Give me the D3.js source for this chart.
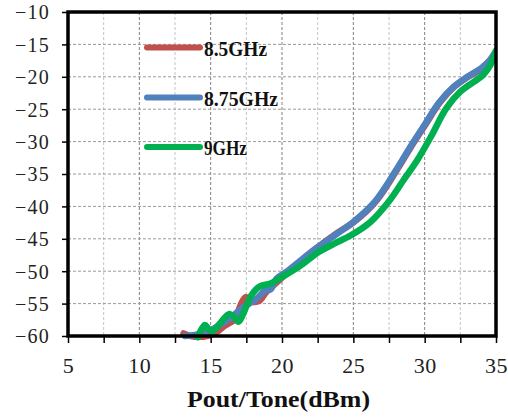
<!DOCTYPE html>
<html>
<head>
<meta charset="utf-8">
<script src="https://cdn.jsdelivr.net/npm/d3@7"></script>
<style>
html,body{margin:0;padding:0;background:#fff;}
svg{display:block;}
</style>
</head>
<body>
<svg id="chart" width="508" height="419"></svg>
<script>
const seriesNames = ["8.5GHz", "8.75GHz", "9GHz"];
const seriesColors = ["#C0504D", "#4F81BD", "#00B050"];

const redX = [13.1,13.6,14.5,15.2,16.0,16.7,17.1,17.45,17.9,18.4,18.9,19.4,20.0,20.6,21.5,22.5,23.8,25.05,26.55,28.05,29.05,30.05,31.05,32.05,33.05,34.05,34.55,35.0];
const redY = [-59.6,-60.0,-60.1,-59.7,-58.4,-57.4,-55.2,-54.0,-54.7,-54.6,-53.2,-52.2,-51.0,-49.8,-48.1,-46.3,-44.2,-42.4,-39.3,-34.4,-30.8,-27.4,-24.0,-21.6,-20.0,-18.7,-17.7,-16.2];

const blueX = [13.2,14.0,15.0,16.0,16.5,17.2,18.2,18.8,19.2,19.6,20.5,21.5,22.5,23.8,25.0,26.5,28.0,29.0,30.0,31.0,32.0,33.0,34.0,34.5,35.0];
const blueY = [-60.0,-59.8,-59.1,-57.8,-57.0,-55.7,-54.3,-53.0,-52.8,-51.2,-49.8,-48.0,-46.3,-44.3,-42.4,-39.3,-34.4,-30.8,-27.4,-24.0,-21.6,-20.0,-18.6,-17.6,-16.0];

const greenX = [14.1,14.35,14.6,14.85,15.1,15.6,16.3,16.6,16.95,17.3,17.8,18.4,19.2,20.0,21.2,22.6,23.8,24.8,26.2,27.5,28.5,29.5,30.5,31.5,32.5,33.5,34.1,34.6,35.0];
const greenY = [-60.2,-59.0,-58.3,-58.9,-59.3,-58.2,-56.6,-57.0,-57.8,-56.5,-53.9,-52.4,-51.9,-50.9,-49.3,-47.0,-45.6,-44.5,-42.4,-39.2,-36.0,-32.8,-29.0,-24.9,-22.3,-20.7,-19.7,-18.2,-16.0];

const xTicks = [5,10,15,20,25,30,35];
const xMinorTicks = [7.5,12.5,17.5,22.5,27.5,32.5];
const yTicks = [-10,-15,-20,-25,-30,-35,-40,-45,-50,-55,-60];
const xTitle = "Pout/Tone(dBm)";

const svg = d3.select("#chart");
const L = 68, R = 496, T = 12, B = 336;
const x = d3.scaleLinear().domain([5,35]).range([L,R]);
const y = d3.scaleLinear().domain([-60,-10]).range([B,T]);

// grid
const g = svg.append("g");
g.selectAll(".xminor").data(xMinorTicks).enter().append("line")
  .attr("x1", d=>x(d)).attr("x2", d=>x(d)).attr("y1", T).attr("y2", B)
  .attr("stroke", "#c4c4c4").attr("stroke-width", 1).attr("stroke-dasharray", "3,2");
g.selectAll(".xmajor").data(xTicks.slice(1,-1)).enter().append("line")
  .attr("x1", d=>x(d)).attr("x2", d=>x(d)).attr("y1", T).attr("y2", B)
  .attr("stroke", "#808080").attr("stroke-width", 1).attr("stroke-dasharray", "3,2");
g.selectAll(".ymajor").data(yTicks.slice(1,-1)).enter().append("line")
  .attr("y1", d=>y(d)).attr("y2", d=>y(d)).attr("x1", L).attr("x2", R)
  .attr("stroke", "#9a9a9a").attr("stroke-width", 1).attr("stroke-dasharray", "3,2");

// lines
const line = d3.line().x(d=>x(d[0])).y(d=>y(d[1])).curve(d3.curveCatmullRom.alpha(0.5));
const series = [
  redX.map((v,i)=>[v, redY[i]]),
  blueX.map((v,i)=>[v, blueY[i]]),
  greenX.map((v,i)=>[v, greenY[i]])
];
svg.append("defs").append("clipPath").attr("id","clip").append("rect")
  .attr("x", L).attr("y", T-5).attr("width", R-L).attr("height", B-T+10);
const lg = svg.append("g").attr("clip-path","url(#clip)");
series.forEach((s,i)=>{
  lg.append("path").attr("d", line(s)).attr("fill","none")
    .attr("stroke", seriesColors[i]).attr("stroke-width", 6.5)
    .attr("stroke-linecap","round").attr("stroke-linejoin","round");
});

// axes with d3
const xAxis = d3.axisBottom(x).tickValues(xTicks.concat(xMinorTicks)).tickSize(7).tickFormat(d=> xTicks.includes(d) ? d : "");
const xa = svg.append("g").attr("transform", `translate(0,${B})`).call(xAxis);
xa.select(".domain").remove();
xa.selectAll(".tick line").attr("stroke","#000").attr("stroke-width",1.5);
xa.selectAll(".tick text").attr("font-family","'Liberation Serif', serif").attr("font-size", 22)
  .attr("fill","#222").attr("dy", null).attr("y", 37).attr("letter-spacing", 0.5);

const yAxis = d3.axisLeft(y).tickValues(yTicks).tickSize(6).tickFormat(d=> d3.format("")(d).replace("-", "\u2212"));
const ya = svg.append("g").attr("transform", `translate(${L},0)`).call(yAxis);
ya.select(".domain").remove();
ya.selectAll(".tick line").attr("stroke","#000").attr("stroke-width",1.5);
ya.selectAll(".tick text").attr("font-family","'Liberation Serif', serif").attr("font-size", 20)
  .attr("fill","#222").attr("x", -18).attr("dy", "0.34em").attr("letter-spacing", 1.2);

// frame
svg.append("rect").attr("x", L).attr("y", T).attr("width", R-L).attr("height", B-T)
  .attr("fill","none").attr("stroke","#000").attr("stroke-width", 3.5);

// legend
const legY = [47.5, 97.5, 147];
const legBase = [56, 106, 155];
const legW = [63, 74, 43];
seriesNames.forEach((n,i)=>{
  svg.append("line").attr("x1", 147).attr("x2", 200).attr("y1", legY[i]).attr("y2", legY[i])
    .attr("stroke", seriesColors[i]).attr("stroke-width", 6).attr("stroke-linecap","round");
  svg.append("text").attr("x", 204).attr("y", legBase[i]).text(n)
    .attr("font-family","'Liberation Serif', serif").attr("font-weight","bold").attr("font-size", 21)
    .attr("textLength", legW[i]).attr("lengthAdjust","spacingAndGlyphs").attr("fill","#111");
});

// x title
svg.append("text").attr("x", 187).attr("y", 407).text(xTitle)
  .attr("font-family","'Liberation Serif', serif").attr("font-weight","bold").attr("font-size", 23)
  .attr("textLength", 183).attr("lengthAdjust","spacingAndGlyphs").attr("fill","#111");
</script>
</body>
</html>
